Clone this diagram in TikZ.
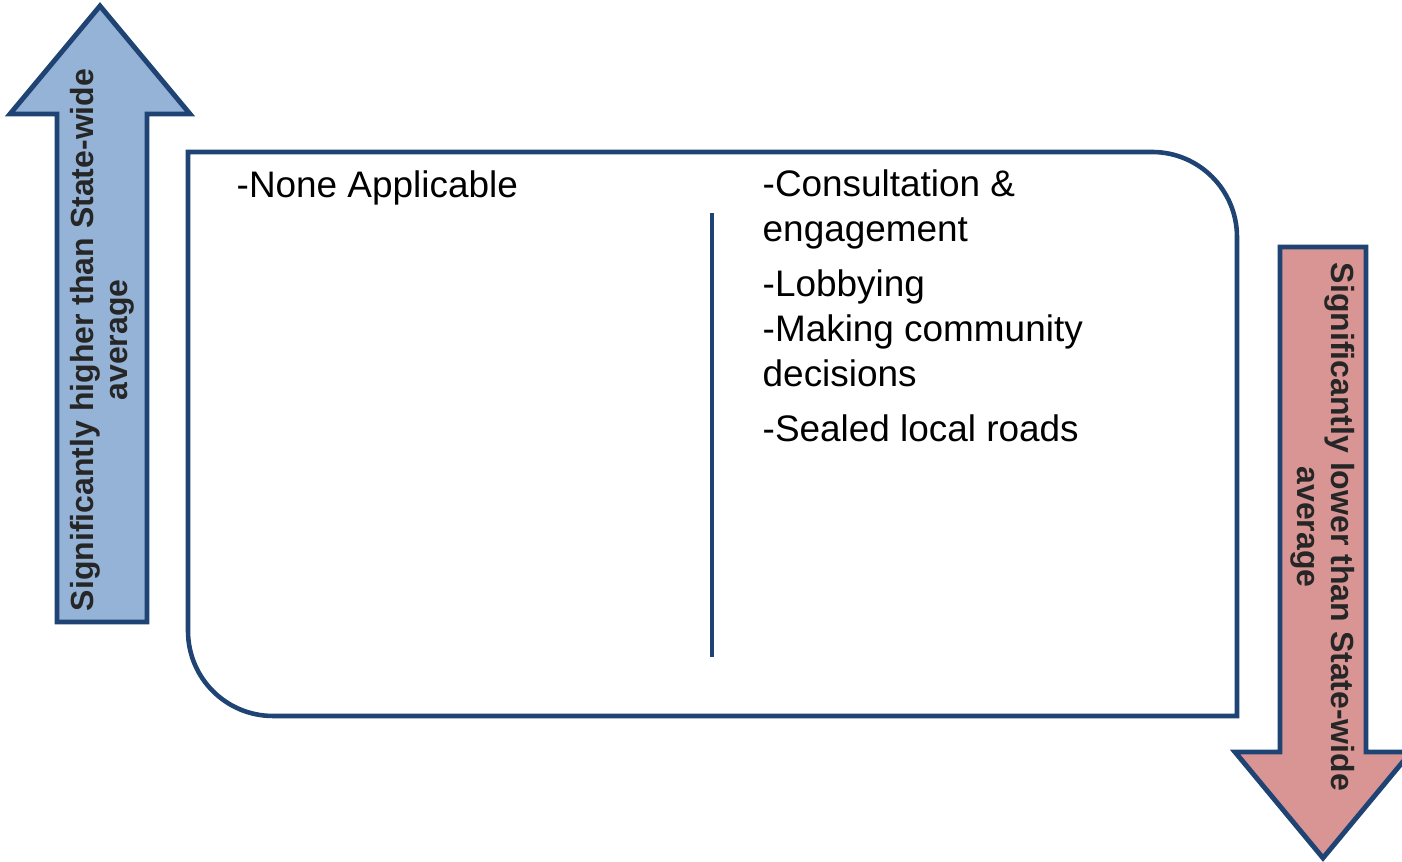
\documentclass[tikz,border=0pt]{standalone}
\usepackage{fontspec}
\setmainfont{Liberation Sans}
\usetikzlibrary{positioning}
\definecolor{framenavy}{RGB}{31,68,116}
\definecolor{highblue}{RGB}{149,179,215}
\definecolor{lowred}{RGB}{217,149,148}
\definecolor{labelgray}{RGB}{38,38,38}

\begin{document}
\begin{tikzpicture}[x=0.01cm, y=-0.01cm, line join=miter]
      % Styles
      \tikzset{bigarrow/.style={draw=framenavy, line width=1.4pt}}
      \tikzset{arrowlabel/.style={font=\bfseries\fontsize{9.1}{9.7}\selectfont, text=labelgray, align=center, inner sep=0pt}}
      \tikzset{frameline/.style={draw=framenavy, line width=1.3pt}}
      \tikzset{listtext/.style={font=\fontsize{10.5}{12.8}\selectfont, align=left, inner sep=0pt}}

      \useasboundingbox (0,0) rectangle (1402,862);

      % --- Up arrow on the left ---
      \draw[bigarrow, fill=highblue] (100,6) -- (190,114) -- (147,114) -- (147,622)
        -- (57,622) -- (57,114) -- (10,114) -- cycle;
      \node[arrowlabel, rotate=90] (higher) at (102,340) {Significantly higher than State-wide\\average};

      % --- Down arrow on the right ---
      \draw[bigarrow, fill=lowred] (1323,858) -- (1411,752) -- (1366,752) -- (1366,247)
        -- (1280,247) -- (1280,752) -- (1235,752) -- cycle;
      \node[arrowlabel, rotate=-90] (lower) at (1323,527) {Significantly lower than State-wide\\average};

      % --- The frame with two rounded corners ---
      \draw[frameline] (188,152) -- (1152,152) .. controls (1199,152) and (1237,190) .. (1237,237)
        -- (1237,716) -- (273,716) .. controls (226,716) and (188,678) .. (188,631) -- cycle;
      \draw[frameline] (712,213) -- (712,657);

      % --- The texts (base = last line) ---
      \node[listtext, anchor=base west] (none) at (236,198) {-None Applicable};
      \node[listtext, anchor=base west] (factors) at (762,442) {-Consultation \&\\engagement\\[0.1cm]-Lobbying\\-Making community\\decisions\\[0.1cm]-Sealed local roads};

    \end{tikzpicture}
\end{document}
